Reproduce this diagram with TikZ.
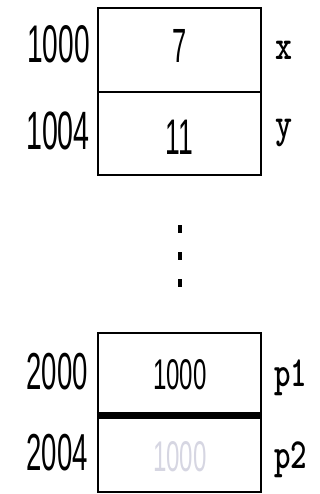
\documentclass[tikz,border=0pt]{standalone}
\usepackage{fontspec}
\usepackage{graphicx}
\setmainfont{Liberation Sans}
\newfontfamily\namefont{lmmonolt10-bold}[Extension=.otf]
\definecolor{ghost}{RGB}{214,214,226}
% narrow text: font size, horizontal squeeze, text
\newcommand\narrowtxt[3]{\fontsize{#1}{#1}\selectfont\scalebox{#2}[1]{#3}}
\begin{document}
\begin{tikzpicture}[x=1pt,y=-1pt,
  cell/.style={draw, minimum width=163pt, inner sep=0pt, line width=2.5pt},
  addr/.style={anchor=base east, inner sep=0pt},
  val/.style={anchor=base, inner sep=0pt},
  varname/.style={anchor=base west, inner sep=0pt, font=\namefont},
  dotmark/.style={fill, inner sep=0pt, minimum width=4pt, minimum height=8pt}]
\useasboundingbox (0,0) rectangle (320,494);

% memory cells
\node[cell, minimum height=84pt] (cx)  at (179.5,50)    {};
\node[cell, minimum height=83pt] (cy)  at (179.5,133.5) {};
\node[cell, minimum height=81pt] (cp1) at (179.5,373.5) {};
\node[cell, minimum height=78pt] (cp2) at (179.5,453)   {};
\draw[line width=7pt] (cp1.south west) -- (cp1.south east);

% addresses
\node[addr] (ax)  at (90,63)  {\narrowtxt{53pt}{0.53}{1000}};
\node[addr] (ay)  at (90,150) {\narrowtxt{54pt}{0.53}{1004}};
\node[addr] (ap1) at (88,389) {\narrowtxt{52pt}{0.53}{2000}};
\node[addr] (ap2) at (88,470) {\narrowtxt{52pt}{0.53}{2004}};

% stored values
\node[val] (vx)  at (179.5,63)  {\narrowtxt{48pt}{0.53}{7}};
\node[val] (vy)  at (179.5,155) {\narrowtxt{50pt}{0.53}{11}};
\node[val] (vp1) at (180,389) {\narrowtxt{43pt}{0.56}{1000}};
\node[val, text=ghost] (vp2) at (180,471) {\narrowtxt{43pt}{0.56}{1000}};

% variable names
\node[varname] (nx)  at (275,60)  {\narrowtxt{42pt}{0.77}{x}};
\node[varname] (ny)  at (275,138) {\narrowtxt{42pt}{0.77}{y}};
\node[varname] (np1) at (274,386) {\narrowtxt{43pt}{0.73}{p1}};
\node[varname] (np2) at (274,468) {\narrowtxt{43pt}{0.73}{p2}};

% vertical ellipsis
\node[dotmark] (d1) at (180,229) {};
\node[dotmark] (d2) at (180,256) {};
\node[dotmark] (d3) at (180,283) {};
\end{tikzpicture}
\end{document}
